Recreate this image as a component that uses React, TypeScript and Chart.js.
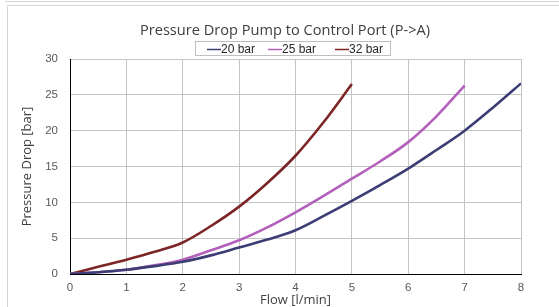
import React, { useEffect, useRef } from "react";
import { Chart, registerables } from "chart.js";

Chart.register(...registerables);

const flow20 = [0, 0.5, 1, 1.5, 2, 2.5, 3, 3.5, 4, 4.5, 5, 5.5, 6, 6.5, 7, 7.5, 8];
const drop20 = [0, 0.25, 0.6, 1.1, 1.7, 2.6, 3.7, 4.8, 6.1, 8.1, 10.2, 12.4, 14.7, 17.3, 20.0, 23.2, 26.6];
const flow25 = [0, 0.5, 1, 1.5, 2, 2.5, 3, 3.5, 4, 4.5, 5, 5.5, 6, 6.5, 7];
const drop25 = [0, 0.25, 0.6, 1.2, 2.0, 3.3, 4.7, 6.5, 8.6, 10.9, 13.3, 15.7, 18.4, 22.0, 26.3];
const flow32 = [0, 0.5, 1, 1.5, 2, 2.5, 3, 3.5, 4, 4.5, 5];
const drop32 = [0, 1.0, 2.0, 3.1, 4.4, 6.7, 9.4, 12.7, 16.5, 21.2, 26.5];

const seriesLabels = ["20 bar", "25 bar", "32 bar"];
const seriesColors = ["#3b3d74", "#b360bc", "#7c2526"];

const chartTitle = "Pressure Drop Pump to Control Port (P->A)";
const xTitle = "Flow [l/min]";
const yTitle = "Pressure Drop [bar]";

function pts(xs: number[], ys: number[]) {
  return xs.map((x, i) => ({ x, y: ys[i] }));
}

const decorPlugin = {
  id: "decor",
  beforeDraw(chart: any) {
    const ctx = chart.ctx;
    ctx.save();
    ctx.fillStyle = "#ffffff";
    ctx.fillRect(0, 0, chart.width, chart.height);
    ctx.strokeStyle = "#d4d4d4";
    ctx.lineWidth = 1;
    ctx.beginPath();
    ctx.moveTo(5, 1.5);
    ctx.lineTo(chart.width, 1.5);
    ctx.moveTo(7.5, 5.5);
    ctx.lineTo(chart.width, 5.5);
    ctx.moveTo(7.5, 5.5);
    ctx.lineTo(7.5, chart.height);
    ctx.stroke();
    ctx.restore();
  },
  afterDraw(chart: any) {
    const ctx = chart.ctx;
    ctx.save();
    ctx.fillStyle = "#404040";
    ctx.font = "14.6px 'Open Sans'";
    ctx.textAlign = "center";
    ctx.textBaseline = "middle";
    ctx.fillText(chartTitle, 285, 31);
    ctx.strokeStyle = "#bfbfbf";
    ctx.lineWidth = 1;
    ctx.strokeRect(195.5, 41.5, 195, 14);
    ctx.font = "12px 'Liberation Sans'";
    ctx.textAlign = "left";
    const starts = [207, 268, 335];
    seriesLabels.forEach((lab, i) => {
      const x0 = starts[i];
      ctx.strokeStyle = seriesColors[i];
      ctx.lineWidth = 1.5;
      ctx.beginPath();
      ctx.moveTo(x0, 49.5);
      ctx.lineTo(x0 + 14, 49.5);
      ctx.stroke();
      ctx.fillStyle = "#262626";
      ctx.fillText(lab, x0 + 14, 49.5);
    });
    ctx.restore();
  },
};

export default function App() {
  const ref = useRef<HTMLCanvasElement | null>(null);
  useEffect(() => {
    if (!ref.current) return;
    const mains = [pts(flow20, drop20), pts(flow25, drop25), pts(flow32, drop32)];
    const datasets: any[] = [];
    mains.forEach((d, i) => {
      datasets.push({
        label: seriesLabels[i],
        data: d,
        borderColor: seriesColors[i],
        borderWidth: 2.6,
        pointRadius: 0,
        cubicInterpolationMode: "monotone",
        fill: false,
      });
    });
    mains.forEach((d, i) => {
      datasets.push({
        label: seriesLabels[i] + " inner",
        data: d,
        borderColor: i === 2 ? "rgba(255,255,255,0.12)" : "rgba(255,255,255,0.5)",
        borderWidth: 0.7,
        pointRadius: 0,
        cubicInterpolationMode: "monotone",
        fill: false,
      });
    });
    const chart = new Chart(ref.current, {
      type: "line",
      data: { datasets },
      options: {
        animation: false,
        responsive: false,
        devicePixelRatio: 1,
        layout: { padding: { top: 59, right: 38, left: 0, bottom: 0 } },
        plugins: {
          legend: { display: false },
          title: { display: false },
          tooltip: { enabled: false },
        },
        scales: {
          x: {
            type: "linear",
            min: 0,
            max: 8,
            ticks: {
              stepSize: 1,
              color: "#595959",
              font: { family: "'Liberation Sans'", size: 11.5 },
              padding: 7,
            },
            grid: { color: "#c4c4c4", drawTicks: false },
            border: { color: "#000000", width: 1 },
            title: {
              display: true,
              text: xTitle,
              color: "#404040",
              font: { family: "'Open Sans'", size: 13 },
              padding: { top: 0, bottom: -1 },
            },
            afterFit: (s: any) => {
              s.height = 33;
            },
          },
          y: {
            type: "linear",
            min: 0,
            max: 30,
            ticks: {
              stepSize: 5,
              color: "#595959",
              font: { family: "'Liberation Sans'", size: 11.5 },
              padding: 12,
            },
            grid: { color: "#c4c4c4", drawTicks: false },
            border: { color: "#000000", width: 1 },
            title: {
              display: true,
              text: yTitle,
              color: "#404040",
              font: { family: "'Open Sans'", size: 13 },
              padding: { top: 19, bottom: 0 },
            },
            afterFit: (s: any) => {
              s.width = 70;
            },
          },
        },
      },
      plugins: [decorPlugin],
    });
    return () => chart.destroy();
  }, []);
  return (
    <div style={{ position: "absolute", left: 0, top: 0, width: 559, height: 307 }}>
      <canvas ref={ref} width={559} height={307} style={{ display: "block" }} />
    </div>
  );
}
